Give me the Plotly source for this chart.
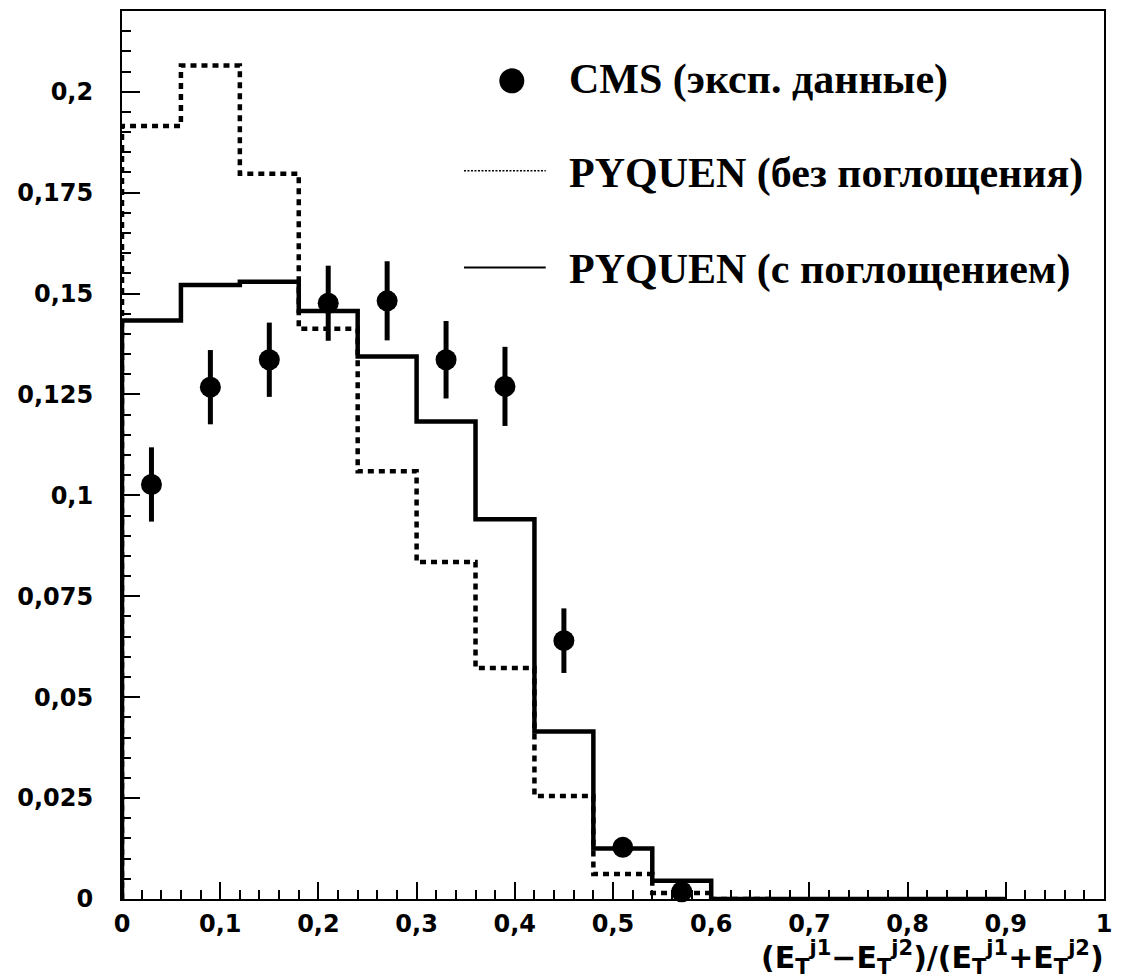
import plotly.graph_objects as go

# Histogram binning (x = dijet energy asymmetry)
bin_edges = [0.0, 0.06, 0.12, 0.18, 0.24, 0.30, 0.36, 0.42, 0.48, 0.54, 0.60, 0.66, 0.72, 0.78, 0.84, 0.90]

# PYQUEN without jet quenching (dotted)
pyquen_noq = [0.1915, 0.2065, 0.1797, 0.1413, 0.1060, 0.0835, 0.0572, 0.0255, 0.0062, 0.0015, 0.0]
# PYQUEN with jet quenching (solid)
pyquen_q = [0.1433, 0.1521, 0.1529, 0.1457, 0.1344, 0.1183, 0.0941, 0.0415, 0.0125, 0.0045,
            0.0, 0.0, 0.0, 0.0, 0.0]

# CMS measurement
cms_x = [0.03, 0.09, 0.15, 0.21, 0.27, 0.33, 0.39, 0.45, 0.51, 0.57]
cms_y = [0.1027, 0.1268, 0.1336, 0.1476, 0.1482, 0.1336, 0.1270, 0.0640, 0.0128, 0.0018]
cms_err = [0.0092, 0.0092, 0.0092, 0.0093, 0.0098, 0.0096, 0.0098, 0.0080, 0.0020, 0.0010]

x_tickvals = [0.0, 0.1, 0.2, 0.3, 0.4, 0.5, 0.6, 0.7, 0.8, 0.9, 1.0]
x_ticktext = ["0", "0,1", "0,2", "0,3", "0,4", "0,5", "0,6", "0,7", "0,8", "0,9", "1"]
y_tickvals = [0.0, 0.025, 0.05, 0.075, 0.1, 0.125, 0.15, 0.175, 0.2]
y_ticktext = ["0", "0,025", "0,05", "0,075", "0,1", "0,125", "0,15", "0,175", "0,2"]

legend_labels = ["CMS (эксп. данные)", "PYQUEN (без поглощения)", "PYQUEN (с поглощением)"]
x_title = ("(E<sub>T</sub><sup>j1</sup>−E<sub>T</sub><sup>j2</sup>)/"
           "(E<sub>T</sub><sup>j1</sup>+E<sub>T</sub><sup>j2</sup>)")


def step_xy(edges, values):
    """Outline of a histogram starting from zero at the first edge."""
    n = len(values)
    xs = [edges[0]] + list(edges[: n + 1])
    ys = [0.0] + list(values) + [values[-1]]
    return xs, ys


W, H = 1121, 980
L, R, T, B = 122, 14, 9, 81
PW, PH = W - L - R, H - T - B


def px(xp):
    return (xp - L) / PW


def py(yp):
    return (H - B - yp) / PH


fig = go.Figure()

xs, ys = step_xy(bin_edges, pyquen_noq)
fig.add_trace(go.Scatter(x=xs, y=ys, mode="lines", line_shape="hv",
                         line=dict(color="black", width=4.5, dash="6px,5px"),
                         showlegend=False, cliponaxis=False))

xs, ys = step_xy(bin_edges, pyquen_q)
fig.add_trace(go.Scatter(x=xs, y=ys, mode="lines", line_shape="hv",
                         line=dict(color="black", width=4.5),
                         showlegend=False, cliponaxis=False))

fig.add_trace(go.Scatter(x=cms_x, y=cms_y, mode="markers",
                         marker=dict(color="black", size=21, symbol="circle"),
                         error_y=dict(type="data", array=cms_err, visible=True,
                                      color="black", thickness=5, width=0),
                         showlegend=False, cliponaxis=False))

tick_font = dict(family="DejaVu Sans", size=24, color="black", weight="bold")

fig.update_xaxes(range=[0, 1], tickmode="array", tickvals=x_tickvals, ticktext=x_ticktext,
                 ticks="inside", ticklen=17, tickwidth=1.5, tickcolor="black",
                 minor=dict(tickmode="linear", tick0=0, dtick=0.02, ticks="inside",
                            ticklen=9, tickwidth=1.5, tickcolor="black", showgrid=False),
                 showline=True, linewidth=2, linecolor="black", mirror=True,
                 showgrid=False, zeroline=False, tickfont=tick_font,
                 ticklabelstandoff=2)
fig.update_yaxes(range=[0, 0.22], tickmode="array", tickvals=y_tickvals, ticktext=y_ticktext,
                 ticks="inside", ticklen=18, tickwidth=1.5, tickcolor="black",
                 minor=dict(tickmode="linear", tick0=0, dtick=0.005, ticks="inside",
                            ticklen=9, tickwidth=1.5, tickcolor="black", showgrid=False),
                 showline=True, linewidth=2, linecolor="black", mirror=True,
                 showgrid=False, zeroline=False, tickfont=tick_font,
                 ticklabelstandoff=22)

# Legend keys
fig.add_shape(type="circle", xref="paper", yref="paper", xsizemode="pixel", ysizemode="pixel",
              xanchor=px(513), yanchor=py(79), x0=-12.5, x1=12.5, y0=-12.5, y1=12.5,
              fillcolor="black", line=dict(color="black", width=0))
fig.add_shape(type="line", xref="paper", yref="paper", x0=px(465), x1=px(547), y0=py(169), y1=py(169),
              line=dict(color="black", width=1.5, dash="2px,1.5px"))
fig.add_shape(type="line", xref="paper", yref="paper", x0=px(465), x1=px(547), y0=py(266), y1=py(266),
              line=dict(color="black", width=2))

legend_font = dict(family="Liberation Serif", size=42, color="black", weight="bold")
for label, yc in zip(legend_labels, [78, 172, 268]):
    fig.add_annotation(text=label, xref="paper", yref="paper", x=px(568), y=py(yc),
                       xanchor="left", yanchor="middle", showarrow=False, font=legend_font)

fig.add_annotation(text=x_title, xref="paper", yref="paper", x=px(1109), y=py(958),
                   xanchor="right", yanchor="middle", showarrow=False,
                   font=dict(family="DejaVu Sans", size=30, color="black", weight="bold"))

fig.update_layout(width=W, height=H, autosize=False,
                  margin=dict(l=L, r=R, t=T, b=B, pad=0),
                  paper_bgcolor="white", plot_bgcolor="white",
                  showlegend=False)

fig.write_html("out.html")
